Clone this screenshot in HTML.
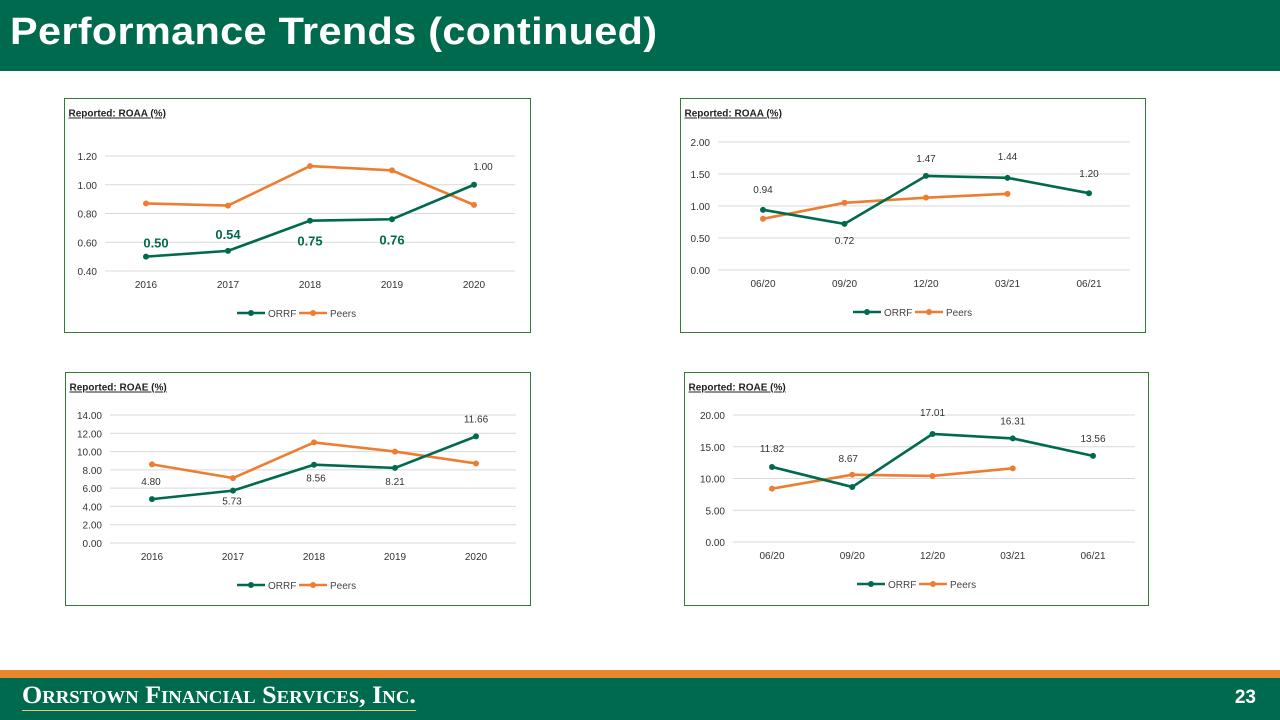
<!DOCTYPE html>
<html><head><meta charset="utf-8"><style>
body{margin:0;width:1280px;height:720px;position:relative;background:#fff;font-family:"Liberation Sans",sans-serif;overflow:hidden}
.hdr{position:absolute;left:0;top:0;width:1280px;height:71px;background:#006a4e}
.hdr h1{margin:0;position:absolute;left:10px;top:11px;color:#fff;font-size:38px;font-weight:bold;letter-spacing:0.3px;transform:scaleX(1.09);transform-origin:left top;white-space:nowrap}
.orange{position:absolute;left:0;top:670px;width:1280px;height:8px;background:#e8872b}
.ftr{position:absolute;left:0;top:678px;width:1280px;height:42px;background:#006a4e}
.logo{position:absolute;left:22px;top:4px;color:#fff;font-family:"Liberation Serif",serif;font-size:25px;font-weight:bold;font-variant:small-caps;border-bottom:1.5px solid #e8c07a;line-height:28px;transform:scaleX(1.04);transform-origin:left top;white-space:nowrap}
.pg{position:absolute;right:24px;top:9px;color:#fff;font-weight:bold;font-size:19px}
svg{position:absolute;left:0;top:0}
</style></head><body>
<div class="hdr"><h1>Performance Trends (continued)</h1></div>
<div class="orange"></div>
<div class="ftr"><div class="logo">Orrstown Financial Services, Inc.</div><div class="pg">23</div></div>
<svg id="s" width="1280" height="720"></svg>
<script>
const cats1=["2016","2017","2018","2019","2020"];
const cats2=["06/20","09/20","12/20","03/21","06/21"];
const roaaAnnualOrrf=[0.50,0.54,0.75,0.76,1.00];
const roaaAnnualPeers=[0.87,0.855,1.13,1.10,0.86];
const roaaQtrOrrf=[0.94,0.72,1.47,1.44,1.20];
const roaaQtrPeers=[0.80,1.05,1.13,1.19];
const roaeAnnualOrrf=[4.80,5.73,8.56,8.21,11.66];
const roaeAnnualPeers=[8.6,7.1,11.0,10.0,8.7];
const roaeQtrOrrf=[11.82,8.67,17.01,16.31,13.56];
const roaeQtrPeers=[8.4,10.6,10.4,11.6];
const ticks1=[0.40,0.60,0.80,1.00,1.20];
const ticks2=[0,0.5,1.0,1.5,2.0];
const ticks3=[0,2,4,6,8,10,12,14];
const ticks4=[0,5,10,15,20];

const G="#006a4e",O="#ed7d31",NS="http://www.w3.org/2000/svg";
const svg=document.getElementById('s');
function mk(t,a,p){const e=document.createElementNS(NS,t);for(const k in a)e.setAttribute(k,a[k]);(p||svg).appendChild(e);return e;}
function chart(c){
  const g=mk('g',{});
  
  
  const box=mk('rect',{x:c.bx,y:c.by,width:c.bw,height:c.bh,fill:'#fff',stroke:'#2e7d32','stroke-width':1},g);
  
  
  const t=mk('text',{x:c.bx+4,y:c.by+18,'font-size':10,'font-weight':'bold','text-decoration':'underline',fill:'#222'},g);t.textContent=c.title;
  
  
  const ymin=c.ticks[0],ymax=c.ticks[c.ticks.length-1];
  const Y=v=>c.y0+(v-ymin)/(ymax-ymin)*(c.y1-c.y0);
  const X=i=>c.x0+i*(c.x1-c.x0)/(c.cats.length-1);
  c.ticks.forEach(v=>{
    const l=mk('line',{x1:c.gx0,x2:c.gx1,y1:Y(v),y2:Y(v),stroke:'#d9d9d9','stroke-width':1},g);
    
    
    const tx=mk('text',{x:c.gx0-8,y:Y(v)+4,'font-size':10,'text-anchor':'end',fill:'#333'},g);tx.textContent=v.toFixed(2);
    
    
  });
  c.cats.forEach((s,i)=>{const tx=mk('text',{x:X(i),y:c.y0+17,'font-size':10,'text-anchor':'middle',fill:'#333'},g);tx.textContent=s;
    
    });
  [[c.peers,O,'peers'],[c.orrf,G,'orrf']].forEach(([d,col,n])=>{
    const p=mk('polyline',{points:d.map((v,i)=>X(i)+','+Y(v)).join(' '),fill:'none',stroke:col,'stroke-width':2.6},g);
    
    
    d.forEach((v,i)=>{const m=mk('circle',{cx:X(i),cy:Y(v),r:3,fill:col},g);
      
      });
  });
  c.orrf.forEach((v,i)=>{
    const o=c.lab[i];
    const tx=mk('text',{x:X(i)+o[0],y:Y(v)+o[1],'font-size':o[2]?13:10,'font-weight':o[2]?'bold':'normal','text-anchor':'middle',fill:o[2]?G:'#333'},g);
    tx.textContent=v.toFixed(2);
    
    
  });
  const lx=c.lx,ly=c.y0+42;
  [[G,'ORRF',0],[O,'Peers',62]].forEach(([col,s,dx])=>{
    const lg=mk('g',{},g);
    
    
    mk('line',{x1:lx+dx,x2:lx+dx+28,y1:ly,y2:ly,stroke:col,'stroke-width':2.6},lg);
    mk('circle',{cx:lx+dx+14,cy:ly,r:3,fill:col},lg);
    const tx=mk('text',{x:lx+dx+31,y:ly+4,'font-size':10,fill:'#444'},lg);tx.textContent=s;
  });
}
chart({name:'roaa-annual-chart',title:'Reported: ROAA (%)',bx:64.5,by:98.5,bw:466,bh:234,cats:cats1,ticks:ticks1,orrf:roaaAnnualOrrf,peers:roaaAnnualPeers,
  y0:271,y1:156,x0:146,x1:474,gx0:105,gx1:515,lx:237,
  lab:[[10,-9,1],[0,-12,1],[0,25,1],[0,25,1],[9,-15,0]]});
chart({name:'roaa-quarterly-chart',title:'Reported: ROAA (%)',bx:680.5,by:98.5,bw:465,bh:234,cats:cats2,ticks:ticks2,orrf:roaaQtrOrrf,peers:roaaQtrPeers,
  y0:270,y1:142,x0:763,x1:1089,gx0:718,gx1:1130,lx:853,
  lab:[[0,-17,0],[0,20,0],[0,-14,0],[0,-18,0],[0,-16,0]]});
chart({name:'roae-annual-chart',title:'Reported: ROAE (%)',bx:65.5,by:372.5,bw:465,bh:233,cats:cats1,ticks:ticks3,orrf:roaeAnnualOrrf,peers:roaeAnnualPeers,
  y0:543,y1:415,x0:152,x1:476,gx0:110,gx1:516,lx:237,
  lab:[[-1,-14,0],[-1,14,0],[2,17,0],[0,17,0],[0,-14,0]]});
chart({name:'roae-quarterly-chart',title:'Reported: ROAE (%)',bx:684.5,by:372.5,bw:464,bh:233,cats:cats2,ticks:ticks4,orrf:roaeQtrOrrf,peers:roaeQtrPeers,
  y0:542,y1:415,x0:772,x1:1093,gx0:733,gx1:1135,lx:857,
  lab:[[0,-15,0],[-4,-25,0],[0,-18,0],[0,-14,0],[0,-14,0]]});
</script>
</body></html>
